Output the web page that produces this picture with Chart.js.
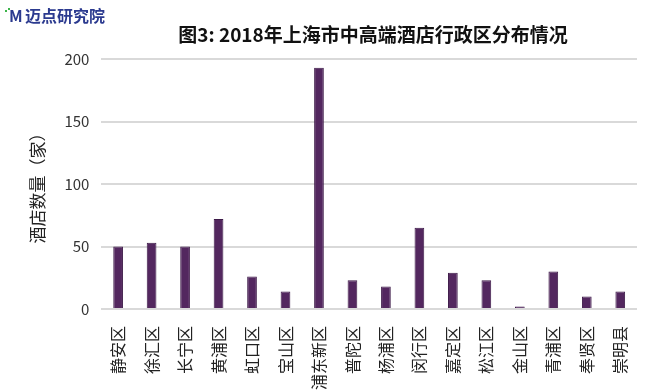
<!DOCTYPE html>
<html>
<head>
<meta charset="utf-8">
<script src="https://cdn.jsdelivr.net/npm/chart.js@4"></script>
<style>
  body { margin: 0; background: #fff; }
  #wrap { width: 650px; height: 391px; }
</style>
</head>
<body>
<div id="wrap"><canvas id="hotelChart"></canvas></div>
<script>
const districts = [
  "静安区", "徐汇区", "长宁区", "黄浦区", "虹口区", "宝山区", "浦东新区", "普陀区",
  "杨浦区", "闵行区", "嘉定区", "松江区", "金山区", "青浦区", "奉贤区", "崇明县"
];
const hotels = [50, 53, 50, 72, 26, 14, 193, 23, 18, 65, 29, 23, 2, 30, 10, 14];
const yTicks = [0, 50, 100, 150, 200];

const FONT = "'Noto Sans CJK SC', 'Noto Sans', sans-serif";

// title + logo drawn by hand so the title sits over the plot, not the canvas
const headerPlugin = {
  id: "header",
  afterDraw(chart) {
    const c = chart.ctx;
    c.save();
    c.textBaseline = "middle";
    // logo
    c.font = "bold 16px " + FONT;
    c.fillStyle = "#2b3a8f";
    c.textAlign = "left";
    c.fillText("M", 9, 16);
    c.fillStyle = "#3cb44a";
    c.fillRect(5, 10, 2, 2);
    c.fillRect(8, 8, 2, 2);
    c.fillStyle = "#2b3a8f";
    c.font = "bold 16px " + FONT;
    c.fillText("迈点研究院", 25, 16);
    // title
    c.font = "bold 19px " + FONT;
    c.fillStyle = "#111";
    c.textAlign = "center";
    c.fillText("图3: 2018年上海市中高端酒店行政区分布情况", 373, 35);
    c.restore();
  }
};

const ctx = document.getElementById("hotelChart");
const hotelChart = new Chart(ctx, {
  type: "bar",
  data: {
    labels: districts,
    datasets: [
      {
        data: hotels,
        backgroundColor: "#53275f",
        borderColor: "#3d1a48",
        borderWidth: 1,
        barPercentage: 0.29,
        categoryPercentage: 1
      }
    ]
  },
  options: {
    responsive: true,
    maintainAspectRatio: false,
    animation: false,
    layout: { padding: { top: 59, right: 13, left: 23, bottom: 0 } },
    plugins: {
      legend: { display: false },
      tooltip: { enabled: false }
    },
    scales: {
      x: {
        grid: { display: false },
        border: { display: false },
        afterFit(axis) {
          axis.height = 82;
        },
        ticks: {
          autoSkip: false,
          maxRotation: 90,
          minRotation: 90,
          padding: 9,
          color: "#222",
          font: { family: FONT, size: 16 }
        }
      },
      y: {
        min: 0,
        max: 200,
        afterBuildTicks(axis) {
          axis.ticks = yTicks.map(v => ({ value: v }));
        },
        grid: { color: "#d9d9d9", lineWidth: 2, drawTicks: false },
        border: { display: false },
        ticks: {
          padding: 12,
          color: "#333",
          font: { family: FONT, size: 15 }
        },
        title: {
          display: true,
          text: "酒店数量（家）",
          color: "#222",
          padding: { bottom: 5 },
          font: { family: FONT, size: 17 }
        }
      }
    }
  },
  plugins: [headerPlugin]
});
</script>
</body>
</html>
